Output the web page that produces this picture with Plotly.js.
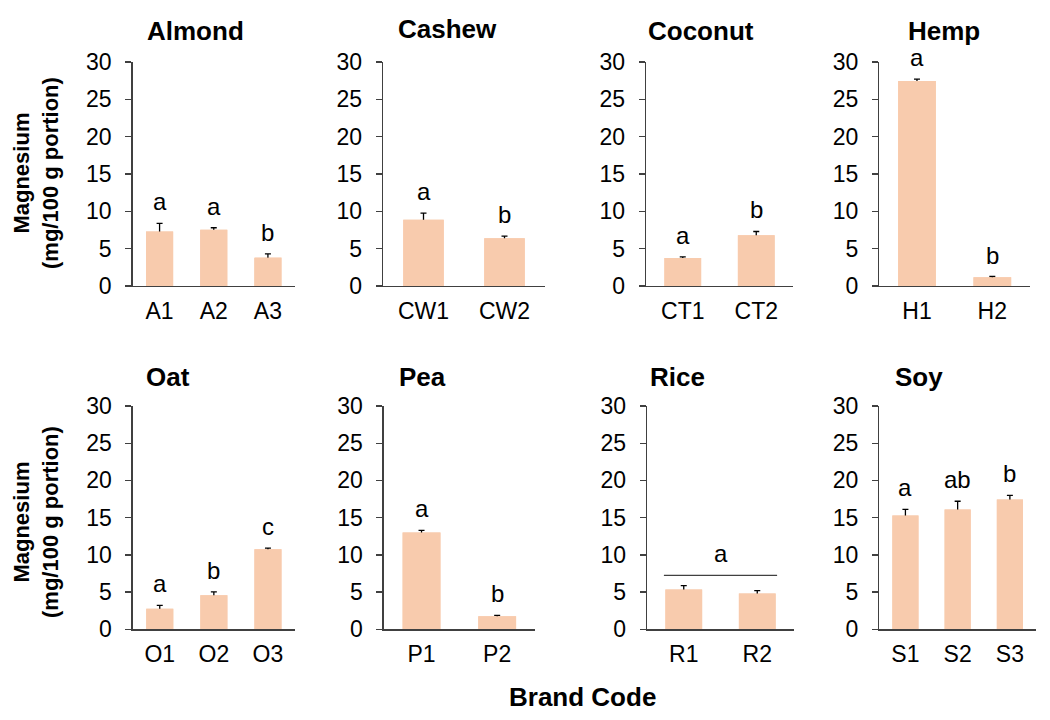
<!DOCTYPE html>
<html>
<head>
<meta charset="utf-8">
<script src="https://cdn.plot.ly/plotly-3.0.1.min.js"></script>
<style>
  body { margin: 0; background: #fff; }
  #chart { width: 1050px; height: 720px; }
</style>
</head>
<body>
<div id="chart"></div>
<script>
// Magnesium (mg/100 g portion), mean with upper error bar, per brand
let almondCodes = ['A1', 'A2', 'A3']
let almondMg = [7.3, 7.55, 3.8]
let almondErr = [1.1, 0.25, 0.5]
let almondLetters = ['a', 'a', 'b']

let cashewCodes = ['CW1', 'CW2']
let cashewMg = [8.87, 6.39]
let cashewErr = [0.9, 0.3]
let cashewLetters = ['a', 'b']

let coconutCodes = ['CT1', 'CT2']
let coconutMg = [3.76, 6.8]
let coconutErr = [0.14, 0.5]
let coconutLetters = ['a', 'b']

let hempCodes = ['H1', 'H2']
let hempMg = [27.45, 1.17]
let hempErr = [0.25, 0.1]
let hempLetters = ['a', 'b']

let oatCodes = ['O1', 'O2', 'O3']
let oatMg = [2.77, 4.57, 10.75]
let oatErr = [0.45, 0.45, 0.15]
let oatLetters = ['a', 'b', 'c']

let peaCodes = ['P1', 'P2']
let peaMg = [12.99, 1.75]
let peaErr = [0.3, 0.12]
let peaLetters = ['a', 'b']

let riceCodes = ['R1', 'R2']
let riceMg = [5.34, 4.8]
let riceErr = [0.54, 0.4]
let riceBracket = 7.25   // one shared letter over both rice brands
let riceLetter = 'a'

let soyCodes = ['S1', 'S2', 'S3']
let soyMg = [15.3, 16.1, 17.45]
let soyErr = [0.8, 1.1, 0.55]
let soyLetters = ['a', 'ab', 'b']

let panels = [
    {name: 'Almond', codes: almondCodes, mg: almondMg, err: almondErr, letters: almondLetters},
    {name: 'Cashew', codes: cashewCodes, mg: cashewMg, err: cashewErr, letters: cashewLetters},
    {name: 'Coconut', codes: coconutCodes, mg: coconutMg, err: coconutErr, letters: coconutLetters},
    {name: 'Hemp', codes: hempCodes, mg: hempMg, err: hempErr, letters: hempLetters},
    {name: 'Oat', codes: oatCodes, mg: oatMg, err: oatErr, letters: oatLetters},
    {name: 'Pea', codes: peaCodes, mg: peaMg, err: peaErr, letters: peaLetters},
    {name: 'Rice', codes: riceCodes, mg: riceMg, err: riceErr, letters: null},
    {name: 'Soy', codes: soyCodes, mg: soyMg, err: soyErr, letters: soyLetters}
]

// plot-area boxes in pixels (left, right) for each panel, rows share y
let W = 1050, H = 720
let xBoxes = [[132.5, 295], [383, 545], [646, 793], [879.3, 1030],
              [132.7, 295], [383.7, 535], [647, 794], [879.3, 1036]]
let yBoxes = [[62, 286], [406, 629.3]]
let titlePos = [[195, 31], [447.5, 29], [701, 31], [944, 31],
                [168, 377], [422, 377], [677, 377], [919, 377]]

let font = 'Liberation Sans, Arial, sans-serif'
let barColor = '#F8CBAD'
let axisColor = '#404040'

let data = []
let covers = []
let layout = {
    width: W,
    height: H,
    margin: {l: 0, r: 0, t: 0, b: 0},
    paper_bgcolor: '#ffffff',
    plot_bgcolor: 'rgba(0,0,0,0)',
    showlegend: false,
    barmode: 'overlay',
    bargap: 0.5,
    font: {family: font, color: '#000000', size: 22},
    annotations: [],
    shapes: []
}

panels.forEach((p, i) => {
    let k = i === 0 ? '' : String(i + 1)
    // bar with error bar; lower end sits inside the bar
    data.push({
        type: 'bar',
        x: p.codes,
        y: p.mg,
        xaxis: 'x' + k,
        yaxis: 'y' + k,
        marker: {color: barColor},
        error_y: {
            type: 'data',
            symmetric: false,
            array: p.err,
            arrayminus: p.err.map(() => 0.4),
            color: '#000000',
            thickness: 1.3,
            width: 3
        },
        hoverinfo: 'x+y'
    })
    // same bar drawn again on top, hides the lower cap so only the "T" shows
    covers.push({
        type: 'bar',
        x: p.codes,
        y: p.mg,
        xaxis: 'x' + k,
        yaxis: 'y' + k,
        marker: {color: barColor},
        hoverinfo: 'skip'
    })

    let xb = xBoxes[i]
    let yb = yBoxes[i < 4 ? 0 : 1]
    layout['xaxis' + k] = {
        domain: [xb[0] / W, xb[1] / W],
        anchor: 'y' + k,
        type: 'category',
        range: [-0.5, p.codes.length - 0.5],
        showline: true,
        linecolor: axisColor,
        linewidth: 1.3,
        ticks: '',
        showgrid: false,
        zeroline: false,
        ticklabelstandoff: 4,
        tickfont: {size: 23, family: font}
    }
    layout['yaxis' + k] = {
        domain: [1 - yb[1] / H, 1 - yb[0] / H],
        anchor: 'x' + k,
        range: [0, 30],
        tickvals: [0, 5, 10, 15, 20, 25, 30],
        showline: true,
        linecolor: axisColor,
        linewidth: 1.3,
        ticks: 'outside',
        ticklen: 6,
        tickwidth: 1.3,
        tickcolor: axisColor,
        showgrid: false,
        zeroline: false,
        ticklabelstandoff: 9,
        tickfont: {size: 23, family: font}
    }

    // panel title
    layout.annotations.push({
        xref: 'paper', yref: 'paper',
        x: titlePos[i][0] / W, y: 1 - titlePos[i][1] / H,
        xanchor: 'center', yanchor: 'middle',
        text: '<b>' + p.name + '</b>',
        showarrow: false,
        font: {size: 26, family: font}
    })

    // significance letters above each error bar
    if (p.letters) {
        p.letters.forEach((l, j) => {
            layout.annotations.push({
                xref: 'x' + k, yref: 'y' + k,
                x: p.codes[j], y: p.mg[j] + p.err[j],
                xanchor: 'center', yanchor: 'bottom',
                yshift: 6,
                text: l,
                showarrow: false,
                font: {size: 24, family: font}
            })
        })
    }
})

data = data.concat(covers)

// rice: one bracket line spanning both bars, single letter above
layout.shapes.push({
    type: 'line', xref: 'x7', yref: 'y7',
    x0: -0.27, x1: 1.27, y0: riceBracket, y1: riceBracket,
    line: {color: axisColor, width: 1.2}
})
layout.annotations.push({
    xref: 'x7', yref: 'y7',
    x: 0.5, y: riceBracket,
    xanchor: 'center', yanchor: 'bottom',
    yshift: 6,
    text: riceLetter,
    showarrow: false,
    font: {size: 24, family: font}
})

// shared y-axis titles, one per row
let yTitleRows = [173, 522]
yTitleRows.forEach(yc => {
    layout.annotations.push({
        xref: 'paper', yref: 'paper',
        x: 36 / W, y: 1 - yc / H,
        xanchor: 'center', yanchor: 'middle',
        textangle: -90,
        text: '<b>Magnesium<br>(mg/100 g portion)</b>',
        showarrow: false,
        font: {size: 22, family: font}
    })
})

// shared x title
layout.annotations.push({
    xref: 'paper', yref: 'paper',
    x: 582 / W, y: 1 - 697 / H,
    xanchor: 'center', yanchor: 'middle',
    text: '<b>Brand Code</b>',
    showarrow: false,
    font: {size: 26, family: font}
})

Plotly.newPlot('chart', data, layout, {displayModeBar: false, staticPlot: true})
</script>
</body>
</html>
